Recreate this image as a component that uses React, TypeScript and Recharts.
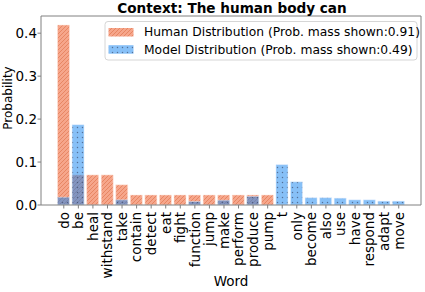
import React from 'react';
import { BarChart, Bar, XAxis, YAxis } from 'recharts';

const words = ['do','be','heal','withstand','take','contain','detect','eat','fight','function','jump','make','perform','produce','pump','t','only','become','also','use','have','respond','adapt','move'];
const humanProb = [0.419,0.070,0.070,0.070,0.047,0.0233,0.0233,0.0233,0.0233,0.0233,0.0233,0.0233,0.0233,0.0233,0.0233,0,0,0,0,0,0,0,0,0];
const modelProb = [0.018,0.187,0,0,0.012,0,0,0,0,0.008,0,0.011,0,0.020,0,0.094,0.054,0.017,0.017,0.016,0.012,0.012,0.009,0.009];
const yTicks = [0, 0.1, 0.2, 0.3, 0.4];
const titleText = 'Context: The human body can';
const legendHuman = 'Human Distribution (Prob. mass shown:0.91)';
const legendModel = 'Model Distribution (Prob. mass shown:0.49)';

const data = words.map((w, i) => ({ word: w, human: humanProb[i], model: modelProb[i] }));

const FONT = '"DejaVu Sans", sans-serif';
const AXIS = '#808080';

const XTick = (props: any) => {
  const { x, y, payload } = props;
  return (
    <text x={x} y={y} transform={`rotate(-90, ${x}, ${y})`} textAnchor="end" dy="0.36em"
      fontSize={13.5} fontFamily={FONT} fill="#000">{payload.value}</text>
  );
};

const YTick = (props: any) => {
  const { x, y, payload } = props;
  return (
    <text x={x} y={y} textAnchor="end" dy="0.36em" fontSize={13.5} fontFamily={FONT} fill="#000">
      {payload.value.toFixed(1)}
    </text>
  );
};

const Patterns = ({ p }: { p: string }) => (
  <defs>
    <pattern id={`${p}hatch`} patternUnits="userSpaceOnUse" width="4" height="4">
      <rect x="0" y="0" width="4" height="4" fill="#F6A68B" />
      <path d="M-1,1 l2,-2 M0,4 l4,-4 M3,5 l2,-2" stroke="#E5825F" strokeWidth="0.9" />
    </pattern>
    <pattern id={`${p}dots`} patternUnits="userSpaceOnUse" width="5" height="5">
      <rect x="0" y="0" width="5" height="5" fill="rgba(25,135,240,0.52)" />
      <circle cx="2.5" cy="2.5" r="0.75" fill="rgba(50,60,90,0.6)" />
    </pattern>
  </defs>
);

export default function App() {
  return (
    <div style={{ position: 'absolute', left: 0, top: 0, width: 425, height: 292, background: '#fff' }}>
      <BarChart width={425} height={292} data={data} margin={{ top: 15, right: 3, bottom: 0, left: 0 }}
        style={{ fontFamily: FONT }}>
        <Patterns p="c" />
        <XAxis dataKey="word" xAxisId="h" interval={0} tick={<XTick />} tickSize={3.5} tickMargin={3.5}
          height={87} padding={{ left: 15.5, right: 15 }} stroke={AXIS} axisLine={{ stroke: AXIS }} tickLine={{ stroke: AXIS }} />
        <XAxis dataKey="word" xAxisId="m" hide padding={{ left: 15.5, right: 15 }} />
        <XAxis dataKey="word" xAxisId="top" orientation="top" tick={false} tickLine={false} height={1}
          stroke={AXIS} axisLine={{ stroke: AXIS }} padding={{ left: 15.5, right: 15 }} />
        <YAxis yAxisId="l" domain={[0, 0.44]} ticks={yTicks} tick={<YTick />} tickSize={3.5} tickMargin={0.5}
          width={41} axisLine={{ stroke: AXIS }} tickLine={{ stroke: AXIS }} allowDataOverflow />
        <YAxis yAxisId="r" orientation="right" domain={[0, 0.44]} tick={false} tickLine={false} width={1}
          stroke={AXIS} axisLine={{ stroke: AXIS }} />
        <Bar dataKey="human" xAxisId="h" yAxisId="l" barSize={12} fill="url(#chatch)"
          stroke="rgba(255,230,220,0.7)" strokeWidth={0.8} isAnimationActive={false} />
        <Bar dataKey="model" xAxisId="m" yAxisId="l" barSize={12} fill="url(#cdots)"
          stroke="rgba(230,240,255,0.6)" strokeWidth={0.8} isAnimationActive={false} />
      </BarChart>
      <svg width={425} height={292} style={{ position: 'absolute', left: 0, top: 0, pointerEvents: 'none' }}>
        <Patterns p="l" />
        <text x={232} y={13} textAnchor="middle" fontSize={13.6} fontWeight="bold" fontFamily={FONT} fill="#000">{titleText}</text>
        <rect x={105} y={21.5} width={312} height={38.5} rx={3} fill="rgba(255,255,255,0.8)" stroke="#d6d6d6" strokeWidth={1} />
        <rect x={108.5} y={28} width={25} height={8.5} fill="url(#lhatch)" />
        <rect x={108.5} y={45.2} width={25} height={8.5} fill="url(#ldots)" />
        <text x={144} y={36.3} fontSize={12.3} fontFamily={FONT} fill="#000">{legendHuman}</text>
        <text x={144} y={53.5} fontSize={12.3} fontFamily={FONT} fill="#000">{legendModel}</text>
        <text x={231} y={286} textAnchor="middle" fontSize={13.5} fontFamily={FONT} fill="#000">Word</text>
        <text x={12} y={98} transform="rotate(-90, 12, 98)" textAnchor="middle" fontSize={12} fontFamily={FONT} fill="#000">Probability</text>
      </svg>
    </div>
  );
}
